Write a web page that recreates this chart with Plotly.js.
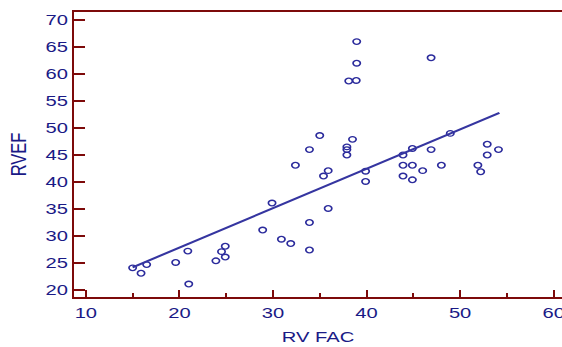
<!DOCTYPE html>
<html>
<head>
<meta charset="utf-8">
<script src="https://cdn.plot.ly/plotly-3.0.1.min.js"></script>
<style>
html,body{margin:0;padding:0;background:#fff;overflow:hidden;width:562px;height:347px;}
#chart{width:432px;height:347px;transform:scaleX(1.3009);transform-origin:0 0;}
</style>
</head>
<body>
<div id="chart"></div>
<script>
// RV FAC (x) and RVEF (y) values
var rvFac = [15.0, 15.9, 16.5, 19.6, 20.9, 21.0, 23.9, 24.5, 24.9, 24.9,
             28.9, 29.9, 30.9, 31.9, 33.9, 33.9, 35.9, 32.4, 33.9, 35.0,
             35.4, 35.9, 37.9, 37.9, 37.9, 38.5, 38.1, 38.9, 38.95, 38.95,
             39.9, 39.9, 43.9, 43.9, 43.9, 44.9, 44.9, 44.9, 46.0, 46.9,
             46.9, 48.0, 48.95, 51.9, 52.2, 52.9, 52.9, 54.1];
var rvef  = [24.1, 23.1, 24.7, 25.1, 27.2, 21.1, 25.4, 27.1, 28.1, 26.1,
             31.1, 36.1, 29.4, 28.6, 27.4, 32.5, 35.1, 43.1, 46.0, 48.6,
             41.1, 42.1, 46.5, 46.0, 45.0, 47.9, 58.7, 58.8, 62.0, 66.0,
             42.0, 40.1, 45.0, 43.1, 41.1, 46.2, 43.1, 40.4, 42.1, 46.0,
             63.0, 43.1, 49.0, 43.1, 41.9, 45.0, 47.0, 46.0];
// regression line end points
var fitX = [15.0, 54.2];
var fitY = [24.2, 52.8];

var xTicks = [10, 20, 30, 40, 50, 60];
var yTicks = [20, 25, 30, 35, 40, 45, 50, 55, 60, 65, 70];

var axisCol = '#7d0a0a';
var textCol = '#1a1a86';
var markCol = '#2b2b9c';
var font = 'Liberation Sans, Arial, sans-serif';

var traces = [
  {
    x: rvFac, y: rvef, type: 'scatter', mode: 'markers',
    marker: {symbol: 'circle-open', size: 5.6, color: markCol, line: {width: 1.3, color: markCol}},
    hoverinfo: 'x+y', cliponaxis: false
  },
  {
    x: fitX, y: fitY, type: 'scatter', mode: 'lines',
    line: {color: '#3535a0', width: 2}, hoverinfo: 'skip'
  }
];

var layout = {
  width: 432, height: 347,
  margin: {l: 57, r: 0, t: 12, b: 50},
  paper_bgcolor: '#fff', plot_bgcolor: '#fff',
  showlegend: false,
  font: {family: font, color: textCol, size: 15.5},
  xaxis: {
    range: [8.75, 60.89],
    tickvals: xTicks, ticktext: xTicks.map(String),
    showgrid: false, zeroline: false,
    showline: true, linecolor: axisCol, linewidth: 2, mirror: true,
    ticks: 'inside', ticklen: 7, tickwidth: 1.6, tickcolor: axisCol,
    minor: {dtick: 5, tick0: 0, ticks: 'inside', ticklen: 4, tickwidth: 1.6, tickcolor: axisCol, showgrid: false},
    ticklabeloverflow: 'allow',
    tickfont: {size: 15.5, color: textCol, family: font},
    title: {text: 'RV FAC', font: {size: 15.5, color: textCol, family: font}, standoff: 12}
  },
  yaxis: {
    range: [18.70, 71.48],
    tickvals: yTicks, ticktext: yTicks.map(String),
    showgrid: false, zeroline: false,
    showline: true, linecolor: axisCol, linewidth: 1.6,
    ticks: 'inside', ticklen: 8.5, tickwidth: 2, tickcolor: axisCol,
    tickfont: {size: 15.5, color: textCol, family: font},
    title: {text: 'RVEF', font: {size: 16.5, color: textCol, family: font}, standoff: 10}
  }
};

Plotly.newPlot('chart', traces, layout, {staticPlot: true, displayModeBar: false});
</script>
</body>
</html>
